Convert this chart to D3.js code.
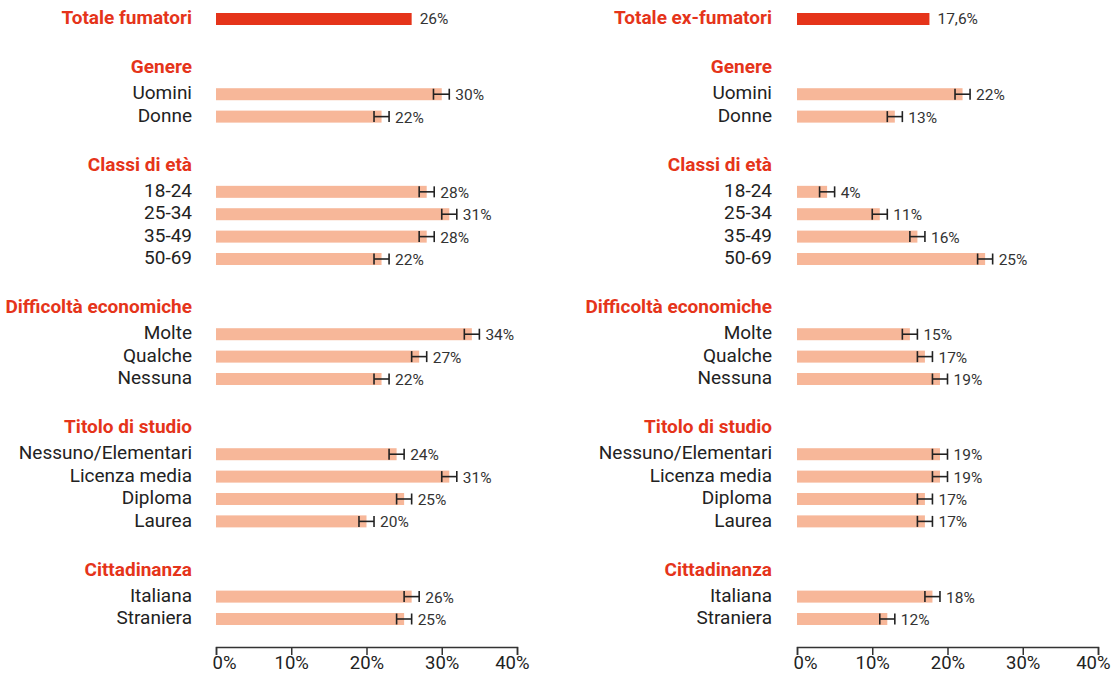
<!DOCTYPE html>
<html lang="it">
<head>
<meta charset="utf-8">
<script src="https://cdn.jsdelivr.net/npm/d3@7"></script>
<style>
  html, body { margin: 0; padding: 0; background: #fff; }
  svg { display: block; font-family: Roboto, "Noto Sans", sans-serif; }
</style>
</head>
<body>
<svg id="chart" width="1111" height="674"></svg>
<script>
// Panel titles and overall values
const totalLabels = ["Totale fumatori", "Totale ex-fumatori"];
const totals = [26, 17.6];

// Grouping variables and their categories
const groupNames = ["Genere", "Classi di età", "Difficoltà economiche", "Titolo di studio", "Cittadinanza"];
const categoryLabels = [
  ["Uomini", "Donne"],
  ["18-24", "25-34", "35-49", "50-69"],
  ["Molte", "Qualche", "Nessuna"],
  ["Nessuno/Elementari", "Licenza media", "Diploma", "Laurea"],
  ["Italiana", "Straniera"]
];

// Smokers (%) with 95% confidence limits
const smokers     = [[30, 22], [28, 31, 28, 22], [34, 27, 22], [24, 31, 25, 20], [26, 25]];
const smokersLow  = [[28.9, 21], [27, 30, 27, 21], [33, 26, 21], [23, 30, 24, 19], [25, 24]];
const smokersHigh = [[31, 23], [29, 32, 29, 23], [35, 28, 23], [25, 32, 26, 21], [27, 26]];

// Ex-smokers (%) with 95% confidence limits
const exSmokers     = [[22, 13], [4, 11, 16, 25], [15, 17, 19], [19, 19, 17, 17], [18, 12]];
const exSmokersLow  = [[21, 12], [3, 10, 15, 24], [14, 16, 18], [18, 18, 16, 16], [17, 11]];
const exSmokersHigh = [[23, 14], [5, 12, 17, 26], [16, 18, 20], [20, 20, 18, 18], [19, 13]];

// Axis ticks
const tickValues = [0, 10, 20, 30, 40];

const RED = "#e5341a";
const PEACH = "#f7b799";
const INK = "#222";

const it = d3.formatLocale({ decimal: ",", thousands: ".", grouping: [3], currency: ["€", ""] });
const fmtPct = v => it.format(".1~f")(v) + "%";

// Vertical layout in row units: each group has a gap, a header and its items
const GAP_BEFORE_HEADER = 2.2, HEADER_TO_ITEM = 1.16;
const rows = [{ type: "total", u: 0 }];
let u = 0;
groupNames.forEach((g, gi) => {
  u += GAP_BEFORE_HEADER;
  rows.push({ type: "header", u, label: g });
  categoryLabels[gi].forEach((c, ci) => {
    u += ci === 0 ? HEADER_TO_ITEM : 1;
    rows.push({ type: "item", u, label: c, gi, ci });
  });
});
const y = d3.scaleLinear().domain([0, u]).range([19, 619]);

const svg = d3.select("#chart");

const panels = [
  { labelX: 192, range: [216, 517], total: totals[0], title: totalLabels[0], vals: smokers, lo: smokersLow, hi: smokersHigh },
  { labelX: 772, range: [797, 1098], total: totals[1], title: totalLabels[1], vals: exSmokers, lo: exSmokersLow, hi: exSmokersHigh }
];

const BAR_H = 12;
const AXIS_Y = 647;

panels.forEach(p => {
  const x = d3.scaleLinear().domain([0, 40]).range(p.range);
  const g = svg.append("g");

  // Row labels
  g.selectAll("text.row")
    .data(rows)
    .join("text")
    .attr("class", "row")
    .attr("x", p.labelX)
    .attr("y", d => y(d.u) - 1.5)
    .attr("dy", "0.35em")
    .attr("text-anchor", "end")
    .attr("font-size", 19)
    .attr("font-weight", d => d.type === "item" ? 400 : 700)
    .attr("fill", d => d.type === "item" ? INK : RED)
    .text(d => d.type === "total" ? p.title : d.label);

  // Total bar
  g.append("rect")
    .attr("x", x(0))
    .attr("y", y(0) - BAR_H / 2)
    .attr("width", x(p.total) - x(0))
    .attr("height", BAR_H)
    .attr("fill", RED);
  g.append("text")
    .attr("x", x(p.total) + 8)
    .attr("y", y(0))
    .attr("dy", "0.35em")
    .attr("font-size", 15.5)
    .attr("fill", "#333")
    .text(fmtPct(p.total));

  const items = rows.filter(r => r.type === "item").map(r => ({
    ...r,
    v: p.vals[r.gi][r.ci],
    lo: p.lo[r.gi][r.ci],
    hi: p.hi[r.gi][r.ci]
  }));

  // Category bars
  g.selectAll("rect.bar")
    .data(items)
    .join("rect")
    .attr("class", "bar")
    .attr("x", x(0))
    .attr("y", d => y(d.u) - BAR_H / 2)
    .attr("width", d => x(d.v) - x(0))
    .attr("height", BAR_H)
    .attr("fill", PEACH);

  // Confidence intervals
  const err = g.selectAll("g.err")
    .data(items)
    .join("g")
    .attr("class", "err")
    .attr("stroke", INK)
    .attr("stroke-width", 1.6);
  err.append("line")
    .attr("x1", d => x(d.lo)).attr("x2", d => x(d.hi))
    .attr("y1", d => y(d.u)).attr("y2", d => y(d.u));
  err.append("line")
    .attr("x1", d => x(d.lo)).attr("x2", d => x(d.lo))
    .attr("y1", d => y(d.u) - 5.5).attr("y2", d => y(d.u) + 5.5);
  err.append("line")
    .attr("x1", d => x(d.hi)).attr("x2", d => x(d.hi))
    .attr("y1", d => y(d.u) - 5.5).attr("y2", d => y(d.u) + 5.5);

  // Value labels
  g.selectAll("text.val")
    .data(items)
    .join("text")
    .attr("class", "val")
    .attr("x", d => x(d.hi) + 6)
    .attr("y", d => y(d.u) + 0.5)
    .attr("dy", "0.35em")
    .attr("font-size", 15.5)
    .attr("fill", "#333")
    .text(d => fmtPct(d.v));

  // Bottom axis
  const axis = g.append("g")
    .attr("transform", `translate(0,${AXIS_Y})`)
    .call(d3.axisBottom(x).tickValues(tickValues).tickFormat(d => d + "%").tickSizeOuter(0).tickSize(8).tickPadding(1));
  axis.select(".domain").attr("stroke", "#333").attr("stroke-width", 1.5);
  axis.selectAll(".tick line").attr("stroke", "#333").attr("stroke-width", 1.5);
  const last = tickValues.length - 1;
  axis.selectAll(".tick text")
    .attr("font-family", "Roboto, 'Noto Sans', sans-serif")
    .attr("font-size", 18.5)
    .attr("fill", INK)
    // keep the end labels inside the axis extent
    .attr("text-anchor", (d, i) => i === 0 ? "start" : i === last ? "end" : "middle")
    .attr("x", (d, i) => i === 0 ? -4 : i === last ? 12 : 0);
});
</script>
</body>
</html>
